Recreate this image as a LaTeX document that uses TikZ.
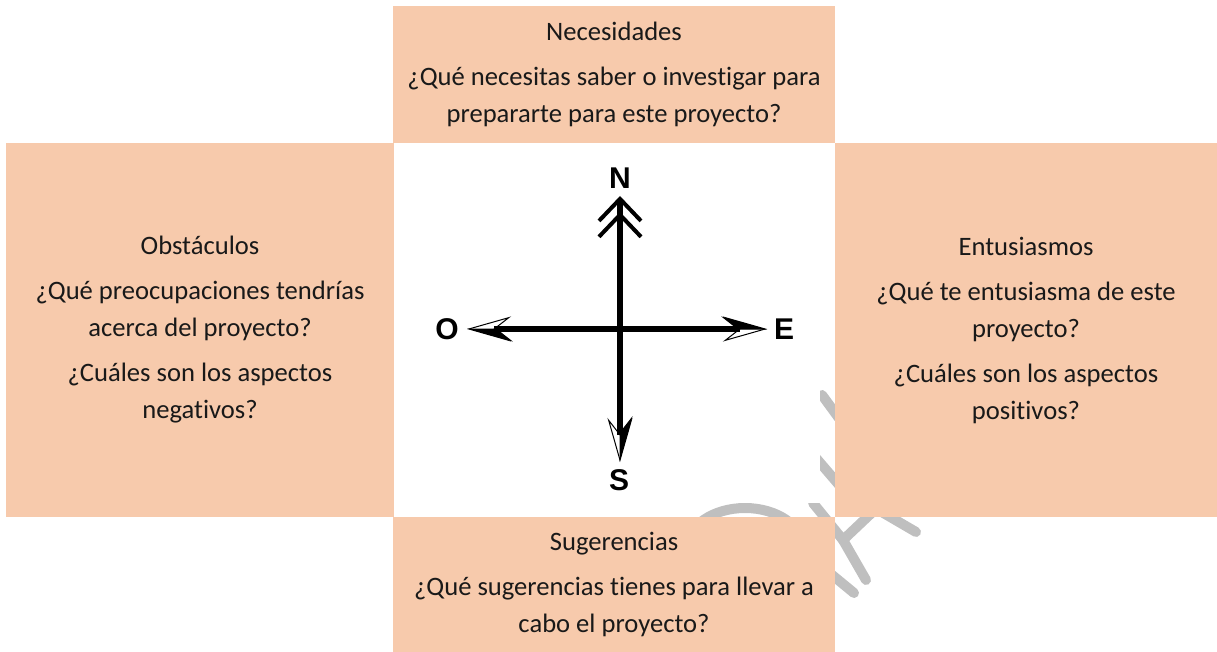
\documentclass[tikz,border=0pt]{standalone}
\usepackage{fontspec}
\setmainfont{Carlito}[Ligatures={NoCommon,NoContextual}]
\newfontfamily\compassfont{Liberation Sans}
\usetikzlibrary{arrows.meta}
\definecolor{peach}{HTML}{F7CAAC}
\definecolor{wmgray}{HTML}{BFBFBF}

\begin{document}
\begin{tikzpicture}[x=1pt, y=-1pt,
  box/.style={fill=peach,inner sep=0pt,outer sep=0pt,align=center,text=black!90,
    font=\fontsize{26.6}{37}\selectfont},
  wm/.style={draw=wmgray,line width=10pt,line cap=round},
  shaft/.style={line width=6pt},
  hollowtip/.style={-{Stealth[length=44pt,width=25pt,inset=16pt,open,line width=1pt]}},
  solidtip/.style={-{Stealth[length=44pt,width=25pt,inset=16pt,harpoon,line width=1pt]}},
  dir/.style={font=\compassfont\bfseries\fontsize{30}{30}\selectfont,inner sep=0pt},
]
\useasboundingbox (0,0) rectangle (1217,652);

% watermark behind everything
\draw[wm] (822,395) -- (852,436);
\draw[wm] (810,451) -- (846,493);
\draw[wm] (813,503) -- (843,540) -- (880,505);
\draw[wm] (843,540) -- (866,580);
\draw[wm] (880,511) -- (916,532);
\draw[wm] (820,565) -- (854,593);
\draw[wm] (745,548) ellipse [x radius=58, y radius=40];
\fill[white] (394,143) rectangle (820,503);

\node[box,minimum width=442pt,minimum height=137pt] (nec) at (614,74.5)
  {Necesidades\\[8pt]¿Qué necesitas saber o investigar para\\prepararte para este proyecto?};
\node[box,minimum width=388pt,minimum height=374pt] (obs) at (200,330)
  {Obstáculos\\[8pt]¿Qué preocupaciones tendrías\\acerca del proyecto?\\[8pt]¿Cuáles son los aspectos\\negativos?};
\node[box,minimum width=382pt,minimum height=374pt] (ent) at (1026,330)
  {Entusiasmos\\[8pt]¿Qué te entusiasma de este\\proyecto?\\[8pt]¿Cuáles son los aspectos\\positivos?};
\node[box,minimum width=442pt,minimum height=135pt] (sug) at (614,584.5)
  {Sugerencias\\[8pt]¿Qué sugerencias tienes para llevar a\\cabo el proyecto?};

\node[dir] (north) at (620,178) {N};
\node[dir] (south) at (619,480) {S};
\node[dir] (west)  at (447,329) {O};
\node[dir] (east)  at (784,329) {E};
\coordinate (ctr)  at (620,329);
\coordinate (tipN) at (620,196);
\coordinate (tipS) at (620,462);
\coordinate (tipO) at (467,329);
\coordinate (tipE) at (767,329);

\draw[shaft,-{Straight Barb[length=22pt,width=42pt,line width=4pt,sep=-11pt]Straight Barb[length=22pt,width=42pt,line width=4pt]}] (ctr) -- (tipN);
\foreach \t in {tipE,tipS,tipO}{
  \draw[shaft,hollowtip] (ctr) -- (\t);
  \draw[shaft,solidtip] (ctr) -- (\t);
}
\end{tikzpicture}
\end{document}
